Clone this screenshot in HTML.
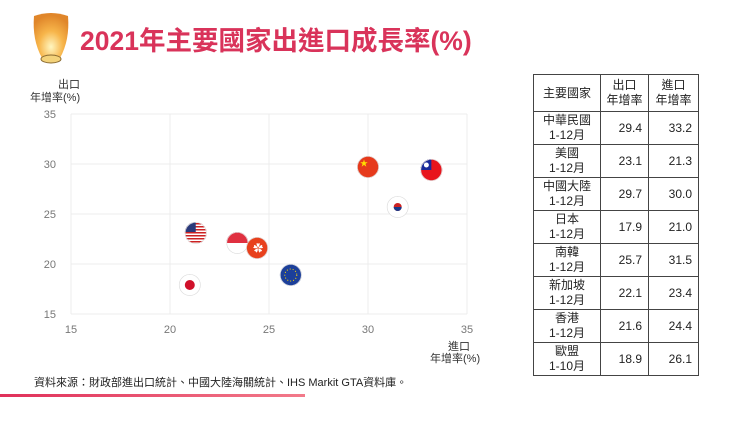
<!DOCTYPE html>
<html><head><meta charset="utf-8"><style>
body{margin:0;width:750px;height:422px;background:#fff;font-family:"Liberation Sans","Noto Sans CJK TC",sans-serif;position:relative;overflow:hidden}
.t{position:absolute}
table{border-collapse:collapse;position:absolute;left:533px;top:74px;font-size:12px;color:#222}
td{border:1px solid #444;text-align:center;padding:0;height:32px;line-height:15px}
td.n{text-align:right;padding-right:6px}
</style></head><body>
<svg class="t" style="left:30px;top:10px" width="42" height="56">
<defs><radialGradient id="lg" cx="50%" cy="75%" r="70%"><stop offset="0" stop-color="#fff6c0"/><stop offset=".5" stop-color="#f7b54a"/><stop offset="1" stop-color="#e0862a"/></radialGradient></defs>
<path d="M4 6 Q21 0 38 6 Q40 30 30 48 L12 48 Q2 30 4 6Z" fill="url(#lg)"/>
<ellipse cx="21" cy="49" rx="10" ry="4" fill="#f3d27a" stroke="#8a6a30"/>
</svg>
<div class="t" style="left:80px;top:19px;font-size:26.5px;font-weight:bold;color:#d9335a">2021年主要國家出進口成長率(%)</div>
<svg id="chart" class="t" style="left:0;top:0" width="520" height="380"></svg>
<div class="t" style="left:34px;top:374px;font-size:11px;color:#222">資料來源：財政部進出口統計、中國大陸海關統計、IHS Markit GTA資料庫。</div>
<div class="t" style="left:0;top:394px;width:305px;height:3px;background:linear-gradient(90deg,#e0305a,#f27a8a)"></div>
<table>
<tr><td style="width:66px;height:36px">主要國家</td><td style="width:47px">出口<br>年增率</td><td style="width:49px">進口<br>年增率</td></tr>
<tr><td>中華民國<br>1-12月</td><td class="n">29.4</td><td class="n">33.2</td></tr>
<tr><td>美國<br>1-12月</td><td class="n">23.1</td><td class="n">21.3</td></tr>
<tr><td>中國大陸<br>1-12月</td><td class="n">29.7</td><td class="n">30.0</td></tr>
<tr><td>日本<br>1-12月</td><td class="n">17.9</td><td class="n">21.0</td></tr>
<tr><td>南韓<br>1-12月</td><td class="n">25.7</td><td class="n">31.5</td></tr>
<tr><td>新加坡<br>1-12月</td><td class="n">22.1</td><td class="n">23.4</td></tr>
<tr><td>香港<br>1-12月</td><td class="n">21.6</td><td class="n">24.4</td></tr>
<tr><td>歐盟<br>1-10月</td><td class="n">18.9</td><td class="n">26.1</td></tr>
</table>
<script>
const countries=["tw","us","cn","jp","kr","sg","hk","eu"];
const exportVals=[29.4,23.1,29.7,17.9,25.7,22.1,21.6,18.9];
const importVals=[33.2,21.3,30.0,21.0,31.5,23.4,24.4,26.1];
const xTicks=[15,20,25,30,35];
const yTicks=[15,20,25,30,35];
const NS="http://www.w3.org/2000/svg";
const svg=document.getElementById('chart');
const X=v=>71+(v-15)*19.8, Y=v=>314-(v-15)*10;
function el(t,a,p){const e=document.createElementNS(NS,t);for(const k in a)e.setAttribute(k,a[k]);(p||svg).appendChild(e);return e;}
const defs=el('defs',{});
xTicks.forEach(t=>{const l=el('line',{x1:X(t),x2:X(t),y1:114,y2:314,stroke:'#ececec'});


const tx=el('text',{x:X(t),y:333,'font-size':11,fill:'#777','text-anchor':'middle'});tx.textContent=t;

});
yTicks.forEach(t=>{const l=el('line',{x1:71,x2:467,y1:Y(t),y2:Y(t),stroke:'#ececec'});


const tx=el('text',{x:56,y:Y(t)+4,'font-size':11,fill:'#777','text-anchor':'end'});tx.textContent=t;

});
[["出口",58,88],["年增率(%)",30,101]].forEach(a=>{const t=el('text',{x:a[1],y:a[2],'font-size':11,fill:'#333'});t.textContent=a[0];

});
[["進口",448,350],["年增率(%)",430,362]].forEach(a=>{const t=el('text',{x:a[1],y:a[2],'font-size':11,fill:'#333'});t.textContent=a[0];

});
const base={tw:'#e8141c',us:'#fff',cn:'#e63a1c',jp:'#fff',kr:'#fff',sg:'#fff',hk:'#e8401c',eu:'#1c3f9a'};
countries.forEach((c,i)=>{
 const cx=X(importVals[i]),cy=Y(exportVals[i]);
 const cp=el('clipPath',{id:'cp'+i},defs);
 el('circle',{cx:cx,cy:cy,r:11},cp);
 const g=el('g',{'clip-path':'url(#cp'+i+')'});
 
 
 el('circle',{cx:cx,cy:cy,r:11,fill:base[c]},g);
 if(c=='tw'){el('rect',{x:cx-11,y:cy-11,width:11,height:11,fill:'#1a2a9a'},g);el('circle',{cx:cx-5,cy:cy-5,r:2.5,fill:'#fff'},g);}
 if(c=='us'){for(let k=-10;k<11;k+=3)el('rect',{x:cx-11,width:22,y:cy+k,height:1.5,fill:'#c22'},g);el('rect',{x:cx-11,y:cy-11,width:11,height:10,fill:'#2a3a7a'},g);}
 if(c=='cn')el('text',{x:cx-8,y:cy-1,'font-size':8,fill:'#ffde00'},g).textContent='★';
 if(c=='jp')el('circle',{cx:cx,cy:cy,r:5,fill:'#d0102a'},g);
 if(c=='kr'){el('circle',{cx:cx,cy:cy,r:4,fill:'#c22'},g);el('path',{d:`M${cx-4} ${cy} A4 4 0 0 0 ${cx+4} ${cy}Z`,fill:'#1a3a8a'},g);}
 if(c=='sg')el('rect',{x:cx-11,y:cy-11,width:22,height:11,fill:'#e03040'},g);
 if(c=='hk')el('text',{x:cx-4,y:cy+4,'font-size':10,fill:'#fff'},g).textContent='✿';
 if(c=='eu')el('circle',{cx:cx,cy:cy,r:6,fill:'none',stroke:'#ffd700','stroke-width':1,'stroke-dasharray':'1 2'},g);
 el('circle',{cx:cx,cy:cy,r:10.6,fill:'none',stroke:'#ddd','stroke-width':0.8},g);
});
</script>
</body></html>
